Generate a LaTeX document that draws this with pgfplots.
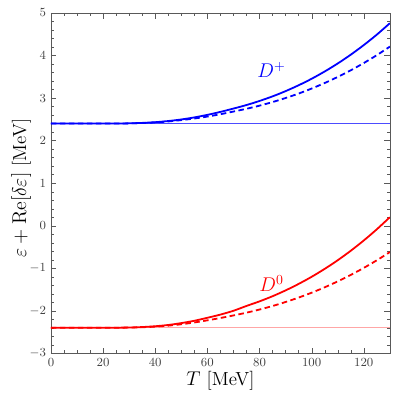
\documentclass[border=0pt]{standalone}
\usepackage{pgfplots}
\pgfplotsset{compat=1.18}
\begin{document}
\begin{tikzpicture}
\useasboundingbox (-36.9pt,-33.1pt) rectangle (252pt,255.9pt);
\begin{axis}[
  scale only axis, width=245.5pt, height=246.5pt,
  xmin=0, xmax=130, ymin=-3, ymax=5,
  xtick={0,20,...,120}, ytick={-3,-2,...,5},
  minor x tick num=3, minor y tick num=4,
  tick align=inside, xtick pos=both, ytick pos=both,
  major tick length=4pt, minor tick length=2.2pt,
  axis line style={black!65}, tick style={black!65},
  tick label style={font=\small, text=black!75},
  label style={font=\fontsize{13.7}{16}\selectfont},
  xlabel={$T$ [MeV]},
  ylabel={$\varepsilon+\mathrm{Re}[\delta\varepsilon]$ [MeV]},
  xlabel style={at={(axis description cs:0.5,-0.08)}, anchor=center},
  ylabel style={at={(axis description cs:-0.088,0.485)}, anchor=center},
]
% reference levels
\addplot[blue!70, line width=0.7pt] coordinates {(0,2.4) (130,2.4)};
\addplot[red!35, line width=0.7pt] coordinates {(0,-2.4) (130,-2.4)};
% D+ full
\addplot[blue, line width=1.3pt, smooth] coordinates {
(0,2.40) (20,2.40) (25,2.402) (30,2.406) (35,2.416) (40,2.433) (45,2.46) (50,2.497) (55,2.545)
(60,2.605) (65,2.675) (70,2.753) (75,2.836) (80,2.932) (85,3.04) (90,3.163) (95,3.301)
(100,3.454) (105,3.625) (110,3.813) (115,4.02) (120,4.246) (125,4.492) (130,4.76)};
% D+ dashed
\addplot[blue, line width=1.3pt, smooth, dash pattern=on 4pt off 2.5pt] coordinates {
(0,2.40) (20,2.40) (25,2.401) (30,2.405) (35,2.413) (40,2.427) (45,2.45) (50,2.482) (55,2.52)
(60,2.565) (65,2.62) (70,2.683) (75,2.748) (80,2.822) (85,2.906) (90,3.001) (95,3.106)
(100,3.224) (105,3.354) (110,3.497) (115,3.653) (120,3.824) (125,4.009) (130,4.21)};
% D0 full
\addplot[red, line width=1.3pt, smooth] coordinates {
(0,-2.40) (20,-2.40) (25,-2.398) (30,-2.394) (35,-2.383) (40,-2.364) (45,-2.334) (50,-2.29) (55,-2.235)
(60,-2.165) (65,-2.09) (70,-2.00) (75,-1.887) (80,-1.779) (85,-1.658) (90,-1.521) (95,-1.369)
(100,-1.201) (105,-1.015) (110,-0.812) (115,-0.589) (120,-0.347) (125,-0.084) (130,0.20)};
% D0 dashed
\addplot[red, line width=1.3pt, smooth, dash pattern=on 4pt off 2.5pt] coordinates {
(0,-2.40) (20,-2.40) (25,-2.399) (30,-2.395) (35,-2.387) (40,-2.373) (45,-2.35) (50,-2.317) (55,-2.275)
(60,-2.225) (65,-2.17) (70,-2.11) (75,-2.045) (80,-1.971) (85,-1.888) (90,-1.794) (95,-1.69)
(100,-1.575) (105,-1.448) (110,-1.309) (115,-1.157) (120,-0.992) (125,-0.813) (130,-0.62)};
\node[blue, font=\Large] at (axis cs:84.6,3.66) {$D^+$};
\node[red, font=\Large] at (axis cs:84.6,-1.36) {$D^0$};
\end{axis}
\end{tikzpicture}
\end{document}
